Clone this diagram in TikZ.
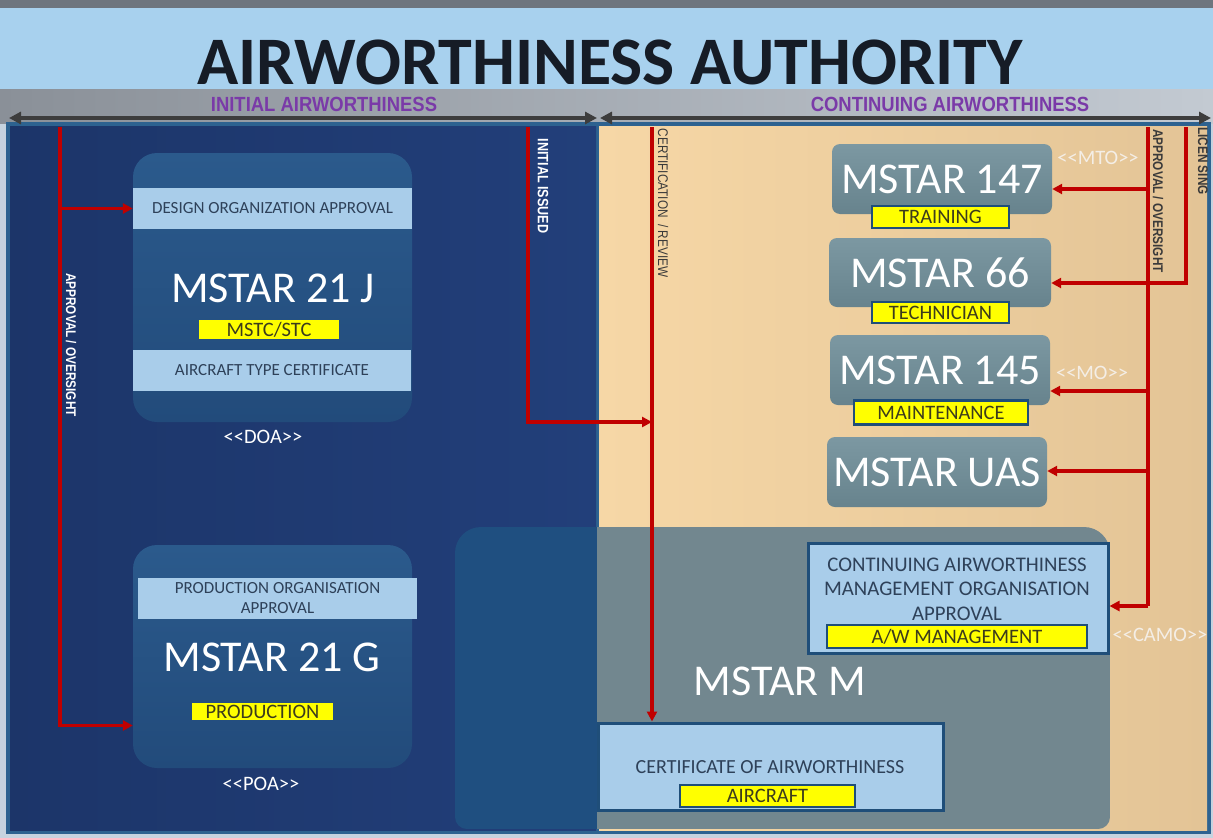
\documentclass[tikz,border=0pt]{standalone}
\usepackage{fontspec}
\setmainfont{Carlito}
\newfontfamily\hdrfont{Liberation Sans}[FakeStretch=0.9]
\newfontfamily\narrowfont{Liberation Sans}[FakeStretch=0.84]
\usetikzlibrary{arrows.meta}
% double angle brackets kept as two separate characters
\newcommand\angtag[1]{<\kern0pt<#1>\kern0pt>}

\definecolor{edgec}{HTML}{C6D3DF}
\definecolor{topL}{HTML}{6E757E}
\definecolor{topM}{HTML}{B9C0C8}
\definecolor{hdr}{HTML}{A8D1EE}
\definecolor{bandL}{HTML}{8A9098}
\definecolor{bandM}{HTML}{E2E5E8}
\definecolor{bandR}{HTML}{C3CAD2}
\definecolor{steel}{HTML}{2D6290}
\definecolor{navyL}{HTML}{1C3569}
\definecolor{navyR}{HTML}{223F7A}
\definecolor{peachL}{HTML}{F6D7A6}
\definecolor{peachR}{HTML}{E3C496}
\definecolor{dboxT}{HTML}{2B5A8C}
\definecolor{dboxB}{HTML}{224B7B}
\definecolor{gboxT}{HTML}{7C98A2}
\definecolor{gboxB}{HTML}{67838D}
\definecolor{stripc}{HTML}{A9CDEA}
\definecolor{striptext}{HTML}{2E4159}
\definecolor{mleft}{HTML}{1F4F80}
\definecolor{mright}{HTML}{72878F}
\definecolor{redc}{HTML}{C00000}
\definecolor{purp}{HTML}{7A3AA8}
\definecolor{ylw}{HTML}{FFFF00}
\definecolor{ytext}{HTML}{3C3C1C}
\definecolor{lblborder}{HTML}{1F4E79}
\definecolor{darktxt}{HTML}{3A3A3A}
\definecolor{titlec}{HTML}{161C26}
\definecolor{arrowgray}{HTML}{3D3D3D}
\definecolor{tagc}{HTML}{F4EEE6}

\tikzset{
  dbox/.style={rounded corners=24pt, top color=dboxT, bottom color=dboxB, draw=none, inner sep=0},
  gbox/.style={rounded corners=8pt, top color=gboxT, bottom color=gboxB, draw=none, inner sep=0,
               text=white, font=\fontsize{44}{48}\selectfont},
  strip/.style={fill=stripc, inner sep=0, text=striptext, align=center,
                font=\fontsize{17}{20}\selectfont},
  ylab/.style={fill=ylw, inner sep=0, text=ytext, font=\fontsize{20.5}{22}\selectfont},
  ylabb/.style={ylab, draw=lblborder, line width=2.5pt},
  lbox/.style={fill=stripc, draw=lblborder, line width=3pt, inner sep=0},
  tag/.style={text=white, inner sep=0, font=\fontsize{20.5}{22}\selectfont},
  bigt/.style={text=white, inner sep=0, font=\fontsize{44}{48}\selectfont},
  vlab/.style={rotate=-90, inner sep=0, font=\narrowfont\fontsize{14}{16}\selectfont},
  redline/.style={draw=redc, line width=3.2pt},
  redarrow/.style={redline, -{Triangle[length=10pt,width=10pt]}},
  dblarrow/.style={draw=arrowgray, line width=3.5pt,
                   {Triangle[length=12pt,width=12pt]}-{Triangle[length=12pt,width=12pt]}},
  hlab/.style={text=purp, inner sep=0, font=\hdrfont\bfseries\fontsize{20.5}{22}\selectfont},
}

\begin{document}
\begin{tikzpicture}[x=1pt,y=-1pt]
\useasboundingbox (0,0) rectangle (1213,838);

% page background and header
\fill[edgec] (0,0) rectangle (1213,838);
\shade[left color=topL, middle color=topM, right color=topL] (0,0) rectangle (1213,8);
\fill[hdr] (0,8) rectangle (1213,89);
\shade[left color=bandL, middle color=bandM, right color=bandR] (0,89) rectangle (1213,123);

% the two panels
\fill[steel] (6,122) rectangle (1211,834);
\shade[left color=navyL, right color=navyR] (10,126) rectangle (596,830);
\shade[left color=peachL, right color=peachR] (599,126) rectangle (1207,830);

% title and section headings
\node[text=titlec, inner sep=0, font=\bfseries\fontsize{68}{72}\selectfont] (title) at (610,62) {AIRWORTHINESS AUTHORITY};
\node[hlab] (initial) at (324,104) {INITIAL AIRWORTHINESS};
\node[hlab] (continuing) at (950,104) {CONTINUING AIRWORTHINESS};
\coordinate (ia1) at (9,118);
\coordinate (ia2) at (597,118);
\coordinate (ca1) at (600,118);
\coordinate (ca2) at (1211,118);
\draw[dblarrow] (ia1) -- (ia2);
\draw[dblarrow] (ca1) -- (ca2);

% MSTAR M region
\begin{scope}
  \clip[rounded corners=12pt] (455,700) -- (455,829) -- (1110,829) -- (1110,700)
        [rounded corners=26pt] -- (1110,527) -- (455,527) -- cycle;
  \fill[mleft] (455,527) rectangle (597,829);
  \fill[mright] (597,527) rectangle (1110,829);
\end{scope}
\node[bigt] (mstarm) at (780,681) {MSTAR M};

% MSTAR 21 J
\node[dbox, minimum width=279pt, minimum height=269pt] (j21) at (272.5,287.5) {};
\node[strip, minimum width=279pt, minimum height=41pt] (doa) at (272.5,208.5) {DESIGN ORGANIZATION APPROVAL};
\node[bigt] (j21t) at (273,288) {MSTAR 21 J};
\node[ylab, minimum width=140pt, minimum height=19pt] (stc) at (269,329.5) {MSTC/STC};
\node[strip, minimum width=278pt, minimum height=41pt] (atc) at (272,370.5) {AIRCRAFT TYPE CERTIFICATE};
\node[tag] (doatag) at (263,437) {\angtag{DOA}};

% MSTAR 21 G
\node[dbox, minimum width=279pt, minimum height=223pt] (g21) at (272.5,656.5) {};
\node[strip, minimum width=279pt, minimum height=41pt, font=\fontsize{17}{20}\selectfont] (poa) at (277.5,598.5) {PRODUCTION ORGANISATION\\APPROVAL};
\node[bigt] (g21t) at (272,657) {MSTAR 21 G};
\node[ylab, minimum width=141pt, minimum height=17pt] (prod) at (262.5,711.5) {PRODUCTION};
\node[tag] (poatag) at (261,784) {\angtag{POA}};

% continuing airworthiness parts
\node[gbox, minimum width=220pt, minimum height=70pt] (m147) at (942,179) {MSTAR 147};
\node[ylabb, minimum width=137pt, minimum height=22pt] (train) at (940.5,217) {TRAINING};
\node[tag, text=tagc] (mto) at (1098,158) {\angtag{MTO}};

\node[gbox, minimum width=222pt, minimum height=69pt] (m66) at (940,272.5) {MSTAR 66};
\node[ylabb, minimum width=137pt, minimum height=21pt] (tech) at (940.5,312.5) {TECHNICIAN};

\node[gbox, minimum width=220pt, minimum height=70pt] (m145) at (940,370) {MSTAR 145};
\node[ylabb, minimum width=174pt, minimum height=24pt] (maint) at (941,412.5) {MAINTENANCE};
\node[tag, text=tagc] (mo) at (1092,373) {\angtag{MO}};

\node[gbox, minimum width=220pt, minimum height=70pt] (uas) at (937,472) {MSTAR UAS};

% CAMO
\node[lbox, minimum width=300pt, minimum height=110pt] (camo) at (958,598) {};
\node[text=striptext, inner sep=0, align=center, font=\fontsize{20.8}{24.5}\selectfont] (camot) at (957,589)
  {CONTINUING AIRWORTHINESS\\MANAGEMENT ORGANISATION\\APPROVAL};
\node[ylabb, minimum width=260pt, minimum height=23pt] (aw) at (957,636.5) {A/W MANAGEMENT};
\node[tag, text=tagc] (camotag) at (1160,635) {\angtag{CAMO}};

% certificate of airworthiness
\node[lbox, minimum width=345pt, minimum height=87pt] (coa) at (770.5,766.5) {};
\node[text=striptext, inner sep=0, font=\fontsize{20}{24}\selectfont] (coat) at (770,767) {CERTIFICATE OF AIRWORTHINESS};
\node[ylabb, minimum width=175pt, minimum height=22pt] (aircraft) at (767.5,796) {AIRCRAFT};

% approval / oversight on the initial side
\coordinate (aoL) at (60,127);
\coordinate (aoLb) at (60,208.5);
\draw[redarrow] (aoL) |- ([yshift=-69pt]g21.west);
\draw[redarrow] (aoLb) -- (doa.west);
\node[vlab, text=white, font=\narrowfont\bfseries\fontsize{14}{16}\selectfont] (aoLt) at (71,345) {APPROVAL / OVERSIGHT};

% initial issue and certification
\coordinate (iiT) at (528,127);
\coordinate (iiJ) at (652,422);
\coordinate (crT) at (652,127);
\draw[redarrow] (iiT) |- (iiJ);
\draw[redarrow] (crT) -- (crT |- coa.north);
\node[vlab, text=white, font=\narrowfont\bfseries\fontsize{15}{16}\selectfont] (iit) at (543,186) {INITIAL ISSUED};
\node[vlab, text=darktxt] (crt) at (663,203) {CERTIFICATION \ / REVIEW};

% approval / oversight and licensing on the continuing side
\coordinate (aoR) at (1148,127);
\coordinate (b147) at (1148,189);
\coordinate (b145) at (1148,391);
\coordinate (bua) at (1148,471);
\coordinate (bcamo) at (1148,606);
\coordinate (lic) at (1186,127);
\coordinate (l66) at (1186,283);
\draw[redline] (aoR) -- (bcamo);
\draw[redarrow] (bcamo) -- (bcamo -| camo.east);
\draw[redarrow] (b147) -- (b147 -| m147.east);
\draw[redarrow] (b145) -- (b145 -| m145.east);
\draw[redarrow] (bua) -- (bua -| uas.east);
\draw[redarrow] (lic) -- (l66) -- (l66 -| m66.east);
\node[vlab, text=darktxt, font=\narrowfont\bfseries\fontsize{14}{16}\selectfont] (aoRt) at (1158,201) {APPROVAL / OVERSIGHT};
\node[vlab, text=darktxt, font=\narrowfont\bfseries\fontsize{14}{16}\selectfont] (lict) at (1203,161) {LICEN SING};
\end{tikzpicture}
\end{document}
